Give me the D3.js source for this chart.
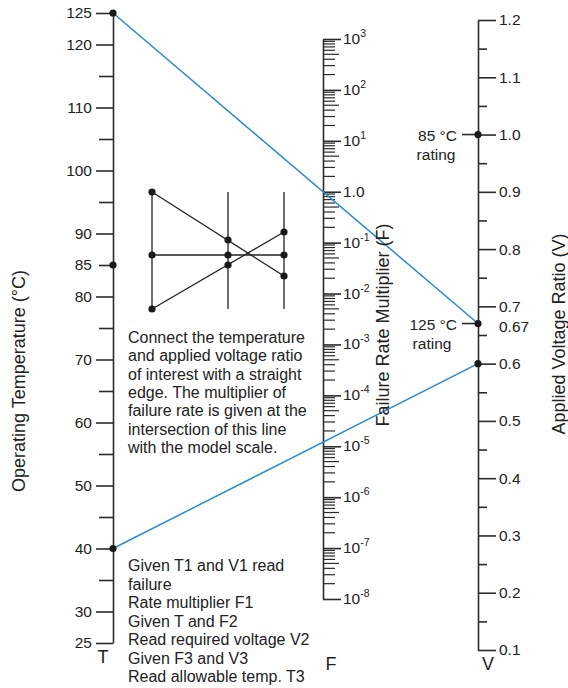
<!DOCTYPE html>
<html>
<head>
<meta charset="utf-8">
<script src="https://cdn.jsdelivr.net/npm/d3@7"></script>
<style>
  body { margin: 0; background: #fff; }
  svg text { font-family: "Liberation Sans", Arial, Helvetica, sans-serif; fill: #222; }
</style>
</head>
<body>
<div class="nomograph"></div>
<script>
// Temperature scale (T)
const tempTicks = [125, 120, 110, 100, 90, 85, 80, 70, 60, 50, 40, 30, 25];
const tempMinor = [115, 105, 95, 75, 65, 55, 45, 35];
const tempDots = [125, 85, 40];

// Failure rate multiplier scale (F), decades as exponents
const fExponents = [3, 2, 1, 0, -1, -2, -3, -4, -5, -6, -7, -8];
const fMinorMult = [2, 3, 4, 5, 6, 7, 8, 9];

// Applied voltage ratio scale (V)
const voltTicks = [1.2, 1.1, 1.0, 0.9, 0.8, 0.7, 0.6, 0.5, 0.4, 0.3, 0.2, 0.1];
const voltMinor = [1.15, 1.05, 0.95, 0.85, 0.75, 0.65, 0.55, 0.45, 0.35, 0.25, 0.15];
const voltDots = [1.0, 0.67, 0.6];
const ratings = [
  {label: "85 °C", v: 1.0},
  {label: "125 °C", v: 0.67}
];

// example straight edges (T -> V)
const exampleLines = [
  {t: 125, v: 0.67},
  {t: 40, v: 0.6}
];

// little inset sketch: columns and the points on them
const insetCols = [0, 76, 132];
const insetLines = [
  [[0, 0], [132, 84]],
  [[0, 63], [132, 63]],
  [[0, 117], [132, 40]]
];
const insetDots = [
  [0, 0], [0, 63], [0, 117],
  [76, 48], [76, 63], [76, 73],
  [132, 40], [132, 63], [132, 84]
];

const noteLines = [
  "Connect the temperature",
  "and applied voltage ratio",
  "of interest with a straight",
  "edge. The multiplier of",
  "failure rate is given at the",
  "intersection of this line",
  "with the model scale."
];
const stepLines = [
  "Given T1 and V1 read",
  "failure",
  "Rate multiplier F1",
  "Given T and F2",
  "Read required voltage V2",
  "Given F3 and V3",
  "Read allowable temp. T3"
];

const width = 568;
const height = 688;
const axisColor = "#2b2b2b";
const lineBlue = "#2a89d3";
const tickFont = '15.5px';

const svg = d3.select('.nomograph')
    .append('svg')
    .attr('width', width)
    .attr('height', height);

const xT = 113, xF = 323, xV = 478;

const tempY = d3.scaleLinear().domain([25, 125]).range([643, 13]);
const fY = d3.scaleLog().domain([1e-8, 1e3]).range([599, 39]);
const voltY = d3.scaleLinear().domain([0.1, 1.2]).range([650, 20]);

function styleAxis(g) {
  g.select('.domain').attr('stroke', axisColor).attr('stroke-width', 1.6);
  g.selectAll('.tick line').attr('stroke', axisColor).attr('stroke-width', 1.6);
  g.selectAll('.tick text').attr('font-size', tickFont).attr('fill', '#222')
      .attr('font-family', '"Liberation Sans", Arial, Helvetica, sans-serif');
}

// ---- T axis
const tAxis = svg.append('g')
    .attr('transform', `translate(${xT},0)`)
    .call(d3.axisLeft(tempY).tickValues(tempTicks).tickSize(17).tickSizeOuter(0).tickPadding(4))
    .call(styleAxis);
tAxis.selectAll('.tick line').filter(d => d === 85).attr('x2', -14);

svg.append('g')
    .attr('transform', `translate(${xT},0)`)
    .call(d3.axisLeft(tempY).tickValues(tempMinor).tickSize(14).tickSizeOuter(0).tickFormat(''))
    .call(styleAxis)
    .select('.domain').remove();

// ---- F axis
const fDecades = fExponents.map(e => Math.pow(10, e));
svg.append('g')
    .attr('transform', `translate(${xF},0)`)
    .call(d3.axisRight(fY).tickValues(fDecades).tickSize(18).tickSizeOuter(0).tickFormat(''))
    .call(styleAxis);

const fMinor = [];
fExponents.slice(1).forEach(e => {
  fMinorMult.forEach(m => fMinor.push({v: m * Math.pow(10, e), m: m}));
});
svg.append('g')
    .selectAll('line')
    .data(fMinor)
    .enter().append('line')
    .attr('x1', xF)
    .attr('x2', d => xF + (d.m === 5 ? 16 : 12))
    .attr('y1', d => fY(d.v))
    .attr('y2', d => fY(d.v))
    .attr('stroke', axisColor)
    .attr('stroke-width', 1.2);

const fLabels = svg.append('g')
    .selectAll('text')
    .data(fExponents)
    .enter().append('text')
    .attr('x', xF + 20)
    .attr('y', d => fY(Math.pow(10, d)) + 5)
    .attr('font-size', tickFont);
fLabels.filter(d => d === 0).text('1.0');
fLabels.filter(d => d !== 0).each(function(d) {
  const t = d3.select(this);
  t.append('tspan').text('10');
  t.append('tspan').attr('font-size', '10.5px').attr('dy', -7).text(d);
});

// ---- V axis
svg.append('g')
    .attr('transform', `translate(${xV},0)`)
    .call(d3.axisRight(voltY).tickValues(voltTicks).tickSize(18).tickSizeOuter(0).tickPadding(3).tickFormat(d3.format('.1f')))
    .call(styleAxis);

svg.append('g')
    .attr('transform', `translate(${xV},0)`)
    .call(d3.axisRight(voltY).tickValues(voltMinor).tickSize(9).tickSizeOuter(0).tickFormat(''))
    .call(styleAxis)
    .select('.domain').remove();

svg.append('text')
    .attr('x', xV + 21)
    .attr('y', voltY(0.67) + 8)
    .attr('font-size', tickFont)
    .text('0.67');

// rating markers
const ratingG = svg.append('g')
    .selectAll('g')
    .data(ratings)
    .enter().append('g')
    .attr('transform', d => `translate(${xV},${voltY(d.v)})`);
ratingG.append('line')
    .attr('x1', -16).attr('x2', 0)
    .attr('stroke', axisColor).attr('stroke-width', 1.6);
ratingG.append('text')
    .attr('x', -21).attr('y', 6)
    .attr('text-anchor', 'end')
    .attr('font-size', tickFont)
    .text(d => d.label);
ratingG.append('text')
    .attr('x', d => d.v === 1.0 ? -42 : -46).attr('y', 25)
    .attr('text-anchor', 'middle')
    .attr('font-size', tickFont)
    .text('rating');

// ---- example straight edges
svg.append('g')
    .selectAll('line')
    .data(exampleLines)
    .enter().append('line')
    .attr('x1', xT).attr('y1', d => tempY(d.t))
    .attr('x2', xV).attr('y2', d => voltY(d.v))
    .attr('stroke', lineBlue)
    .attr('stroke-width', 1.5);

// dots
svg.append('g')
    .selectAll('circle')
    .data(tempDots)
    .enter().append('circle')
    .attr('cx', xT).attr('cy', d => tempY(d))
    .attr('r', 3.6).attr('fill', '#1a1a1a');
svg.append('g')
    .selectAll('circle')
    .data(voltDots)
    .enter().append('circle')
    .attr('cx', xV).attr('cy', d => voltY(d))
    .attr('r', 3.6).attr('fill', '#1a1a1a');

// ---- scale letters
svg.append('text').attr('x', 103).attr('y', 663).attr('text-anchor', 'middle').attr('font-size', '18px').text('T');
svg.append('text').attr('x', 331).attr('y', 670).attr('text-anchor', 'middle').attr('font-size', '18px').text('F');
svg.append('text').attr('x', 488).attr('y', 670).attr('text-anchor', 'middle').attr('font-size', '18px').text('V');

// ---- axis titles
const titles = [
  {text: 'Operating Temperature (°C)', x: 25, y: 381},
  {text: 'Failure Rate Multiplier (F)', x: 389, y: 325},
  {text: 'Applied Voltage Ratio (V)', x: 565, y: 334}
];
svg.append('g')
    .selectAll('text')
    .data(titles)
    .enter().append('text')
    .attr('transform', d => `translate(${d.x},${d.y}) rotate(-90)`)
    .attr('text-anchor', 'middle')
    .attr('font-size', '18px')
    .text(d => d.text);

// ---- inset sketch
const insetX = d3.scaleLinear().domain([0, 132]).range([152, 284]);
const insetY = d3.scaleLinear().domain([0, 117]).range([192, 309]);
const inset = svg.append('g');
inset.selectAll('.col')
    .data(insetCols)
    .enter().append('line')
    .attr('class', 'col')
    .attr('x1', d => insetX(d)).attr('x2', d => insetX(d))
    .attr('y1', insetY(0)).attr('y2', insetY(117))
    .attr('stroke', '#222').attr('stroke-width', 1.3);
inset.selectAll('.edge')
    .data(insetLines)
    .enter().append('line')
    .attr('class', 'edge')
    .attr('x1', d => insetX(d[0][0])).attr('y1', d => insetY(d[0][1]))
    .attr('x2', d => insetX(d[1][0])).attr('y2', d => insetY(d[1][1]))
    .attr('stroke', '#222').attr('stroke-width', 1.3);
inset.selectAll('circle')
    .data(insetDots)
    .enter().append('circle')
    .attr('cx', d => insetX(d[0])).attr('cy', d => insetY(d[1]))
    .attr('r', 3.6).attr('fill', '#1a1a1a');

// ---- notes
svg.append('g')
    .selectAll('text')
    .data(noteLines)
    .enter().append('text')
    .attr('x', 128)
    .attr('y', (d, i) => 343 + i * 18.3)
    .attr('font-size', '16px')
    .text(d => d);
svg.append('g')
    .selectAll('text')
    .data(stepLines)
    .enter().append('text')
    .attr('x', 128)
    .attr('y', (d, i) => 571 + i * 18.5)
    .attr('font-size', '16px')
    .text(d => d);
</script>
</body>
</html>
